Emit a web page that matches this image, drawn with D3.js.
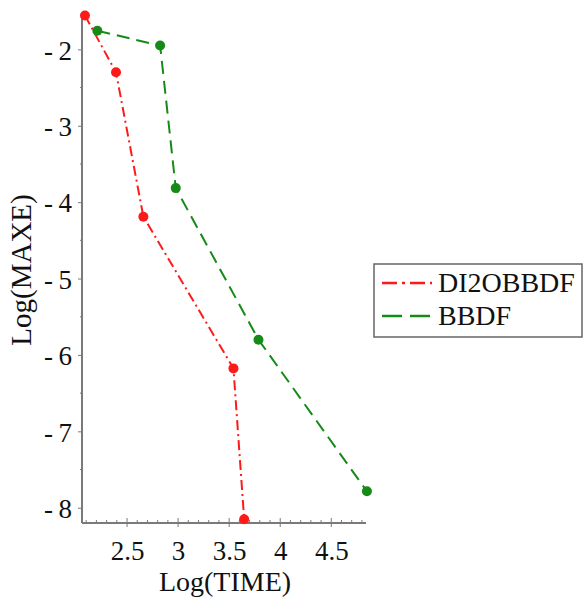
<!DOCTYPE html>
<html>
<head>
<meta charset="utf-8">
<script src="https://cdn.jsdelivr.net/npm/d3@7"></script>
<style>
  body { margin: 0; background: #fff; }
  svg text { font-family: "Liberation Serif", "Times New Roman", Times, "DejaVu Serif", serif !important; fill: #111; }
</style>
</head>
<body>
<svg id="chart" width="584" height="600"></svg>
<script>
// Log(TIME) vs Log(MAXE) for two methods
const seriesNames = ["DI2OBBDF", "BBDF"];
const di2oTime = [2.088, 2.392, 2.660, 3.542, 3.647];
const di2oMaxe = [-1.557, -2.30, -4.19, -6.176, -8.15];
const bbdfTime = [2.209, 2.824, 2.977, 3.787, 4.849];
const bbdfMaxe = [-1.756, -1.95, -3.816, -5.80, -7.785];
const xTicks = [2.5, 3, 3.5, 4, 4.5];
const yTicks = [-2, -3, -4, -5, -6, -7, -8];
const xLabel = "Log(TIME)";
const yLabel = "Log(MAXE)";

const serif = "'Liberation Serif', 'Times New Roman', Times, 'DejaVu Serif', serif";
const svg = d3.select("#chart");
const x = d3.scaleLinear().domain([2.059, 4.84]).range([82, 366]);
const y = d3.scaleLinear().domain([-1.55, -8.2]).range([15, 523]);

const axisColor = "#7a7a7a";
// short minus followed by a thin space, as in the printed tick labels
const fmt = v => (v < 0 ? "-\u2009" : "") + Math.abs(v);

// axes lines
svg.append("line").attr("x1", x.range()[0]).attr("x2", x.range()[1])
  .attr("y1", y.range()[1]).attr("y2", y.range()[1])
  .attr("stroke", axisColor).attr("stroke-width", 2);
svg.append("line").attr("x1", x.range()[0]).attr("x2", x.range()[0])
  .attr("y1", y.range()[0]).attr("y2", y.range()[1])
  .attr("stroke", axisColor).attr("stroke-width", 2);

// x axis ticks
const xAxis = d3.axisBottom(x).tickValues(xTicks).tickFormat(fmt).tickSize(0).tickPadding(0);
const gx = svg.append("g").attr("transform", `translate(0,${y.range()[1]})`).call(xAxis)
  .attr("font-family", serif);
gx.select(".domain").remove();
gx.selectAll("text").attr("font-size", 27).attr("y", 37).attr("dy", 0);
const xMinor = d3.range(2.1, 4.85, 0.1);
svg.append("g").selectAll("line").data(xMinor).join("line")
  .attr("x1", d => x(d)).attr("x2", d => x(d))
  .attr("y1", y.range()[1]).attr("y2", d => y.range()[1] - (Math.abs(d * 2 - Math.round(d * 2)) < 1e-6 ? 5 : 3))
  .attr("stroke", axisColor).attr("stroke-width", 1);
svg.append("g").selectAll("line").data(xTicks).join("line")
  .attr("x1", d => x(d)).attr("x2", d => x(d))
  .attr("y1", y.range()[1]).attr("y2", y.range()[1] + 4)
  .attr("stroke", axisColor).attr("stroke-width", 1);

// y axis ticks
const yAxis = d3.axisLeft(y).tickValues(yTicks).tickFormat(fmt).tickSize(4).tickPadding(6);
const gy = svg.append("g").attr("transform", `translate(${x.range()[0]},0)`).call(yAxis)
  .attr("font-family", serif);
gy.select(".domain").remove();
gy.selectAll(".tick line").attr("stroke", axisColor);
gy.selectAll("text").attr("font-size", 27).attr("dy", "0.36em");
const yMinor = [-2.5, -3.5, -4.5, -5.5, -6.5, -7.5];
svg.append("g").selectAll("line").data(yMinor).join("line")
  .attr("x1", x.range()[0]).attr("x2", x.range()[0] - 2)
  .attr("y1", d => y(d)).attr("y2", d => y(d))
  .attr("stroke", axisColor).attr("stroke-width", 1);

// axis titles
svg.append("text").attr("x", 225).attr("y", 591).attr("text-anchor", "middle")
  .attr("font-family", serif).attr("font-size", 28).text(xLabel);
svg.append("text").attr("transform", "translate(31,270) rotate(-90)")
  .attr("font-family", serif).attr("text-anchor", "middle").attr("font-size", 29).text(yLabel);

// series
const series = [
  { name: seriesNames[0], xs: di2oTime, ys: di2oMaxe, color: "#ff1a1a", dash: "10,4,2,4", legendDash: "15,5,3,5" },
  { name: seriesNames[1], xs: bbdfTime, ys: bbdfMaxe, color: "#168a16", dash: "13,7", legendDash: "20,8" }
];
const line = d3.line().x(d => x(d[0])).y(d => y(d[1]));
series.forEach(s => {
  const pts = s.xs.map((v, i) => [v, s.ys[i]]);
  svg.append("path").datum(pts).attr("d", line)
    .attr("fill", "none").attr("stroke", s.color).attr("stroke-width", 2)
    .attr("stroke-dasharray", s.dash);
  svg.append("g").selectAll("circle").data(pts).join("circle")
    .attr("cx", d => x(d[0])).attr("cy", d => y(d[1])).attr("r", 5)
    .attr("fill", s.color);
});

// legend
const lg = svg.append("g");
lg.append("rect").attr("x", 374).attr("y", 264).attr("width", 208).attr("height", 73)
  .attr("fill", "#fff").attr("stroke", "#666").attr("stroke-width", 1.5);
series.forEach((s, i) => {
  const cy = 283 + i * 33;
  lg.append("line").attr("x1", 382).attr("x2", 432).attr("y1", cy).attr("y2", cy)
    .attr("stroke", s.color).attr("stroke-width", 2.5).attr("stroke-dasharray", s.legendDash);
  lg.append("text").attr("x", 438).attr("y", cy + 9).attr("font-family", serif)
    .attr("font-size", 28).text(s.name);
});
</script>
</body>
</html>
